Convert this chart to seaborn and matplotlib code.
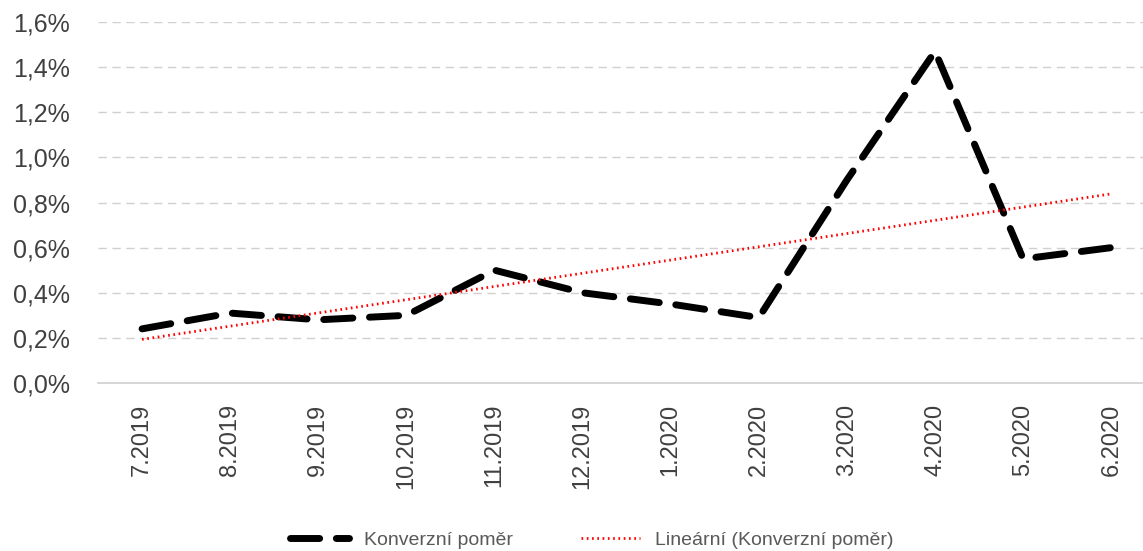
import numpy as np
import pandas as pd
import matplotlib
matplotlib.use("Agg")
import matplotlib.pyplot as plt
import seaborn as sns

months = ["7.2019", "8.2019", "9.2019", "10.2019", "11.2019", "12.2019",
          "1.2020", "2.2020", "3.2020", "4.2020", "5.2020", "6.2020"]
conversion = [0.24, 0.31, 0.28, 0.30, 0.50, 0.40, 0.35, 0.29, 0.90, 1.47, 0.55, 0.60]
y_ticks = [0.0, 0.2, 0.4, 0.6, 0.8, 1.0, 1.2, 1.4, 1.6]

sns.set_theme(style="white")
plt.rcParams['font.family'] = ['Liberation Sans', 'DejaVu Sans']

idx = np.arange(len(months))
coef = np.polyfit(idx, conversion, 1)
trend = np.polyval(coef, idx)
df = pd.DataFrame({"idx": idx, "conv": conversion, "trend": trend})

fig = plt.figure(figsize=(11.43, 5.51), dpi=100)
ax = fig.add_axes([98/1143, 1-383/551, 1-98/1143, (383-22)/551])

sns.lineplot(data=df, x="idx", y="conv", ax=ax, color="black", linewidth=5,
             dashes=False, label="Konverzní poměr")
ln = ax.lines[-1]
ln.set_linestyle((0, (4.2, 2.4)))
ln.set_dash_capstyle("round")
sns.lineplot(data=df, x="idx", y="trend", ax=ax, color="#ff0000", linewidth=2,
             label="Lineární (Konverzní poměr)")
ax.lines[-1].set_linestyle((0, (0.6, 1.3)))

ax.set_xlim(-0.5, 11.36)
ax.set_ylim(0, 1.6)
ax.set_yticks(y_ticks)
ax.set_yticklabels([f"{v:.1f}%".replace(".", ",") for v in y_ticks], fontsize=18, color="#404040")
ax.set_xticks(idx)
ax.set_xticklabels(months, rotation=90, fontsize=17, color="#404040")
ax.tick_params(axis="x", pad=15, length=0)
ax.tick_params(axis="y", pad=20, length=0)
ax.set_xlabel("")
ax.set_ylabel("")
for yv in y_ticks[1:]:
    ax.axhline(yv, color="#d0d0d0", linewidth=1, linestyle=(0, (6, 4)), zorder=0)
for s in ["top", "right", "left"]:
    ax.spines[s].set_visible(False)
ax.spines["bottom"].set_color("#d0d0d0")
ax.spines["bottom"].set_linewidth(1.2)

leg = ax.legend(loc="center", bbox_to_anchor=(592/1143, 1-540/551), bbox_transform=fig.transFigure,
                ncol=2, frameon=False, fontsize=14, handlelength=3.0, columnspacing=3.5,
                handletextpad=0.8)
for t in leg.get_texts():
    t.set_color("#595959")

fig.savefig("out.png", dpi=100)
